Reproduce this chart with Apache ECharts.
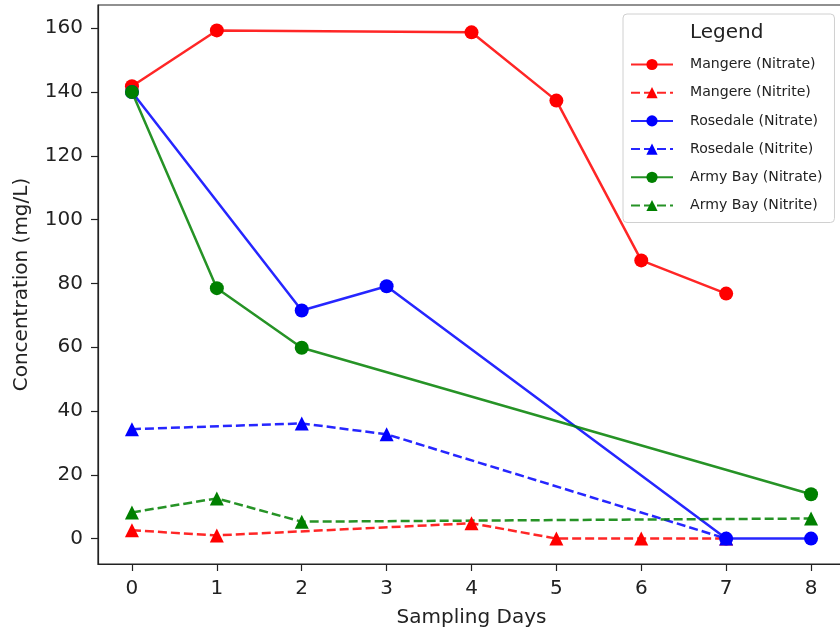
<!DOCTYPE html>
<html>
<head>
<meta charset="utf-8">
<script src="https://cdn.jsdelivr.net/npm/echarts@6/dist/echarts.min.js"></script>
<style>html,body{margin:0;padding:0;background:#fff;}#c{width:840px;height:629px;}</style>
</head>
<body>
<div id="c"></div>
<script>
const xTicks = [0,1,2,3,4,5,6,7,8];
const yTicks = [0,20,40,60,80,100,120,140,160];

const mangereDays = [0,1,4,5,6,7];
const mangereNitrate = [141.8,159.3,158.7,137.3,87.2,76.8];
const mangereNitrite = [2.6,1.0,4.8,0,0,0];

const rosedaleNitrateDays = [0,2,3,7,8];
const rosedaleNitrate = [140,71.5,79.1,0,0];
const rosedaleNitriteDays = [0,2,3,7];
const rosedaleNitrite = [34.3,36.1,32.7,0];

const armyDays = [0,1,2,8];
const armyNitrate = [140,78.5,59.8,13.9];
const armyNitrite = [8.2,12.6,5.3,6.3];

const font = 'DejaVu Sans';
function pairs(xs, ys){ return xs.map((x,i)=>[x, ys[i]]); }
function mk(name, color, xs, ys, dashed){
  return {
    name: name, type: 'line',
    data: pairs(xs, ys),
    symbol: dashed ? 'triangle' : 'circle',
    symbolSize: 14,
    showAllSymbol: true,
    itemStyle: {color: color, opacity: 1},
    lineStyle: {color: color, width: 2.5, type: dashed ? [9,4] : 'solid', opacity: 0.85},
    emphasis: {disabled: true},
    animation: false
  };
}

const chart = echarts.init(document.getElementById('c'), null, {renderer: 'canvas'});
chart.setOption({
  backgroundColor: '#fff',
  animation: false,
  grid: {left: 98, top: 5, width: 747, height: 559, containLabel: false, outerBoundsMode: 'none',
         show: true, borderColor: '#222', borderWidth: 1.2, backgroundColor: 'transparent'},
  xAxis: {
    type: 'value', min: -0.4, max: 8.4,
    name: 'Sampling Days', nameLocation: 'middle', nameGap: 44,
    nameTextStyle: {fontFamily: font, fontSize: 20, color: '#222'},
    axisLine: {show: true, onZero: false, lineStyle: {color: '#222', width: 1.2}},
    axisTick: {show: true, length: 7, customValues: xTicks, lineStyle: {color: '#222', width: 1.2}},
    axisLabel: {customValues: xTicks, fontFamily: font, fontSize: 20, color: '#222', margin: 15},
    splitLine: {show: false}
  },
  yAxis: {
    type: 'value', min: -7.97, max: 167.27,
    name: 'Concentration (mg/L)', nameLocation: 'middle', nameGap: 66,
    nameTextStyle: {fontFamily: font, fontSize: 20, color: '#222'},
    axisLine: {show: true, onZero: false, lineStyle: {color: '#222', width: 1.2}},
    axisTick: {show: true, length: 7, customValues: yTicks, lineStyle: {color: '#222', width: 1.2}},
    axisLabel: {customValues: yTicks, fontFamily: font, fontSize: 20, color: '#222', margin: 15},
    splitLine: {show: false}
  },
  legend: {
    orient: 'vertical', left: 623, top: 14,
    padding: [43.5, 12, 10, 7],
    backgroundColor: 'rgba(255,255,255,0.8)',
    borderColor: '#d0d0d0', borderWidth: 1, borderRadius: 4,
    itemWidth: 42, itemHeight: 14, itemGap: 14.2,
    textStyle: {fontFamily: font, fontSize: 14.1, lineHeight: 14, color: '#222', padding: [0,0,0,12]},
    data: ['Mangere (Nitrate)','Mangere (Nitrite)','Rosedale (Nitrate)','Rosedale (Nitrite)','Army Bay (Nitrate)','Army Bay (Nitrite)']
  },
  graphic: [{
    type: 'text', left: 690, top: 23, z: 100,
    style: {text: 'Legend', font: '20px "DejaVu Sans"', fill: '#222'}
  }],
  series: [
    mk('Mangere (Nitrate)', '#ff0000', mangereDays, mangereNitrate, false),
    mk('Mangere (Nitrite)', '#ff0000', mangereDays, mangereNitrite, true),
    mk('Rosedale (Nitrate)', '#0000ff', rosedaleNitrateDays, rosedaleNitrate, false),
    mk('Rosedale (Nitrite)', '#0000ff', rosedaleNitriteDays, rosedaleNitrite, true),
    mk('Army Bay (Nitrate)', '#008000', armyDays, armyNitrate, false),
    mk('Army Bay (Nitrite)', '#008000', armyDays, armyNitrite, true)
  ]
});
</script>
</body>
</html>
